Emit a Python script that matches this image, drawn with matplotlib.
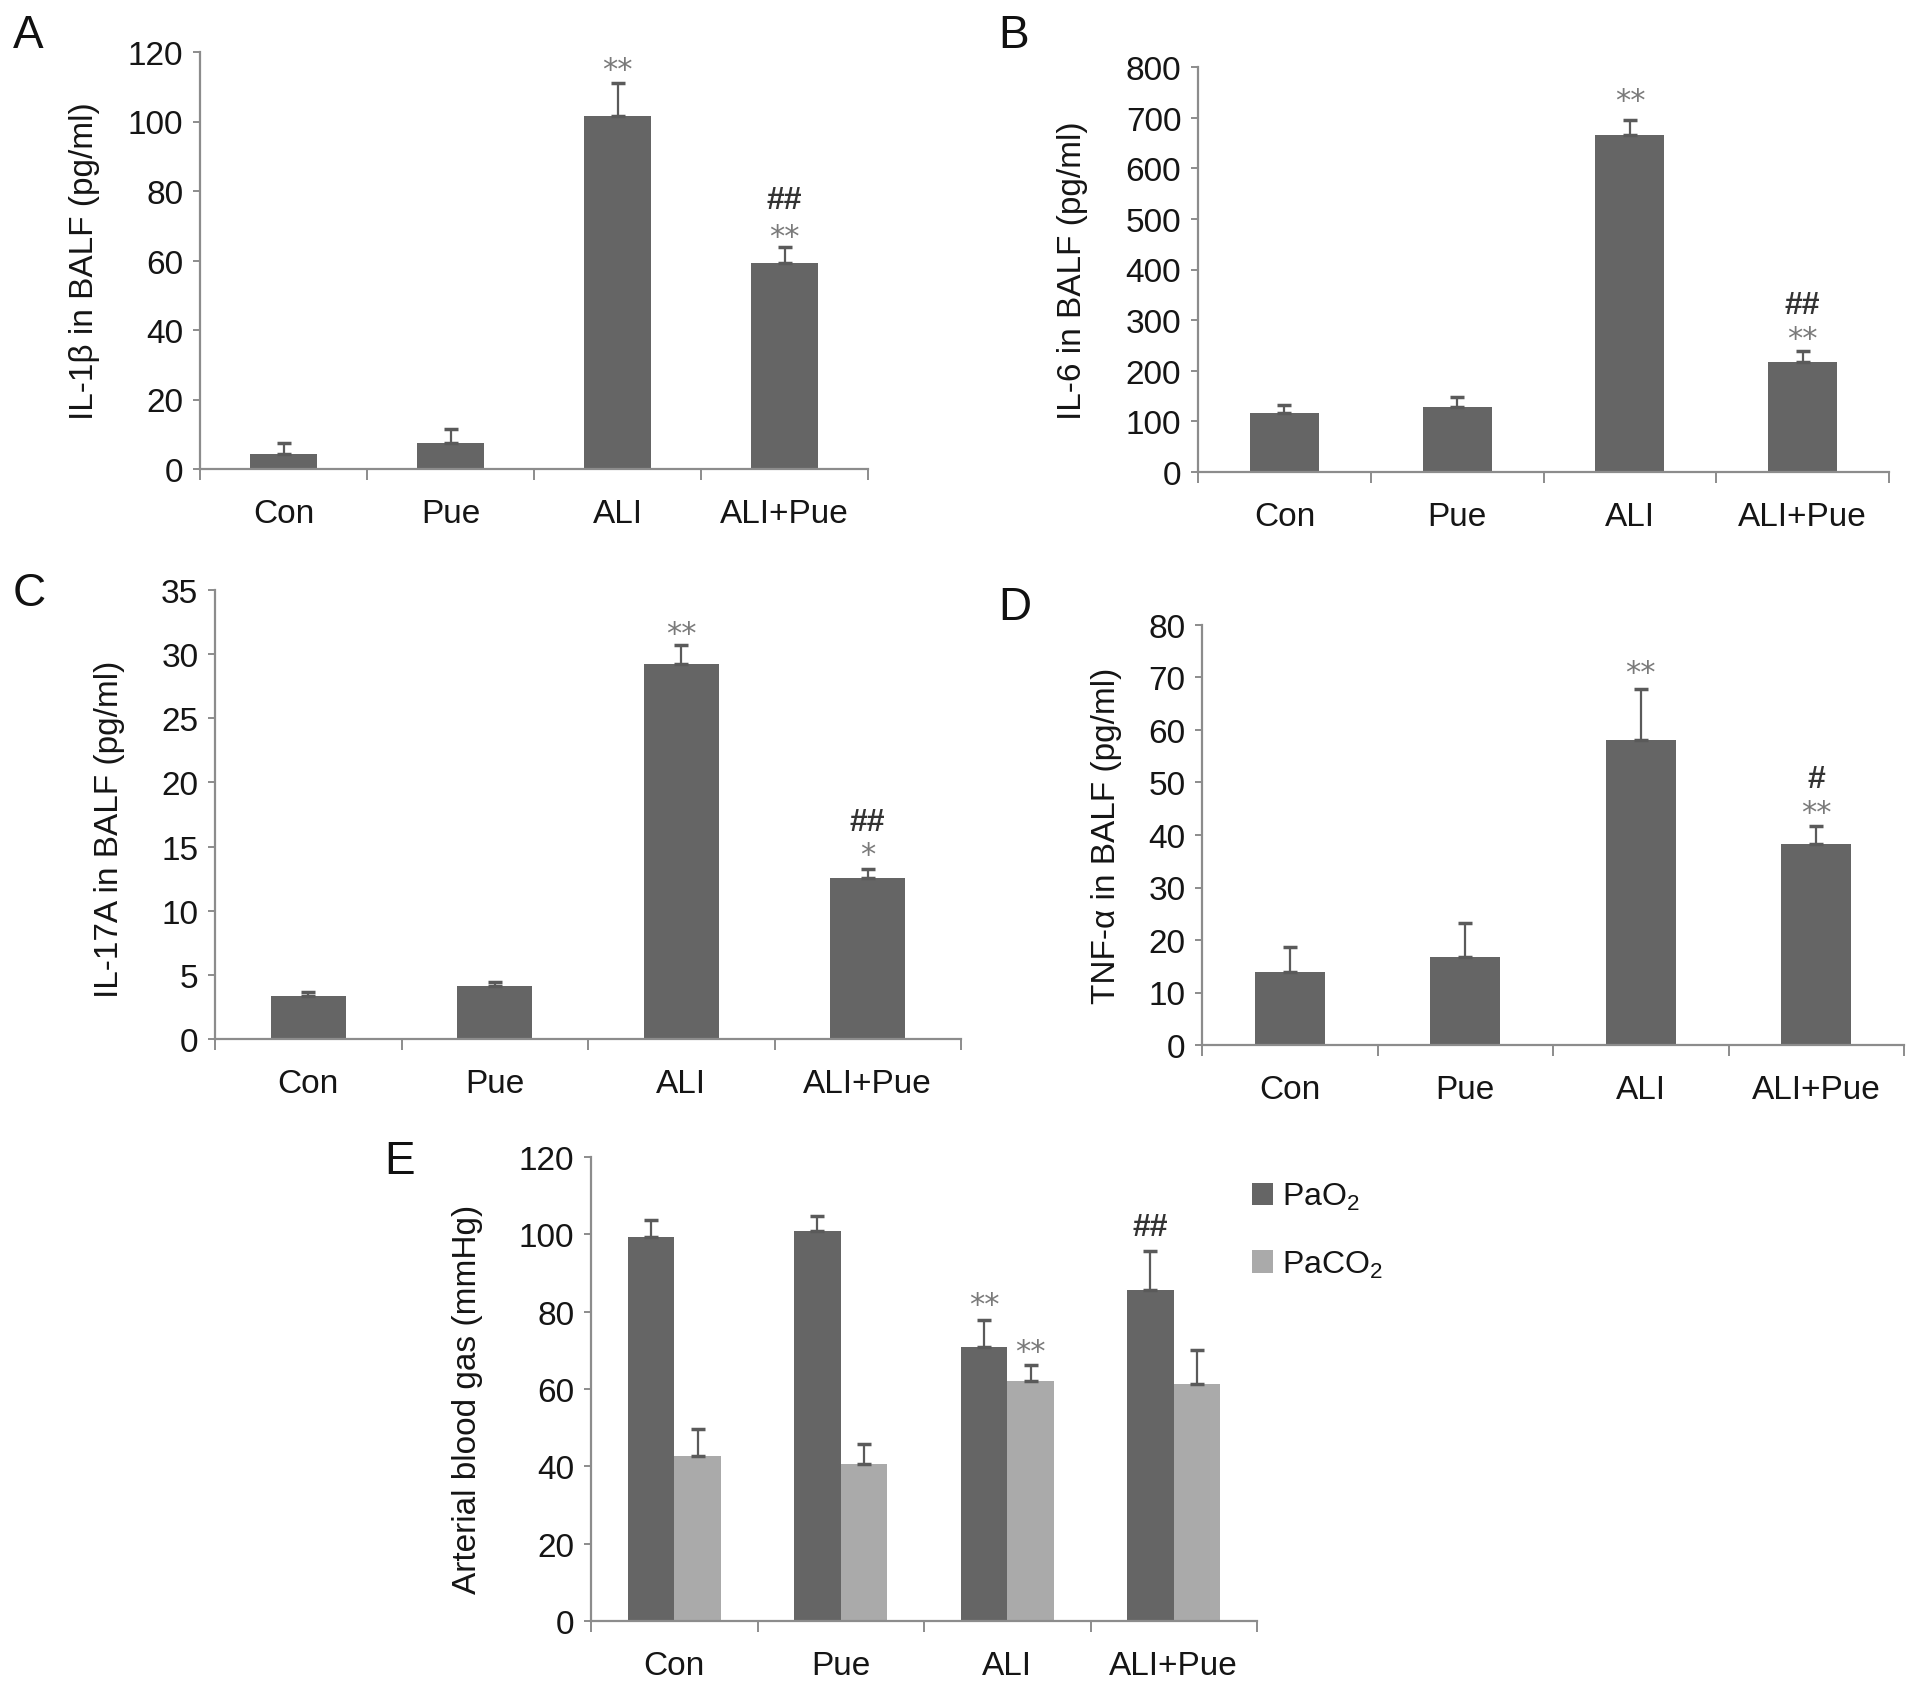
import matplotlib
matplotlib.use("Agg")
import matplotlib.pyplot as plt
from matplotlib.patches import Patch
from matplotlib.transforms import offset_copy
import numpy as np

plt.rcParams['font.family'] = ['Liberation Sans', 'DejaVu Sans']
plt.rcParams['mathtext.fontset'] = 'custom'
plt.rcParams['mathtext.rm'] = 'Liberation Sans'
plt.rcParams['mathtext.it'] = 'Liberation Sans:italic'

categories = ["Con", "Pue", "ALI", "ALI+Pue"]

il1b_mean = [4.2, 7.6, 101.5, 59.4]
il1b_err = [3.3, 3.8, 9.5, 4.5]
il6_mean = [116, 129, 666, 217]
il6_err = [16, 19, 30, 22]
il17a_mean = [3.36, 4.16, 29.25, 12.52]
il17a_err = [0.33, 0.3, 1.5, 0.74]
tnfa_mean = [13.95, 16.8, 58.1, 38.3]
tnfa_err = [4.7, 6.5, 9.7, 3.4]
pao2_mean = [99.2, 100.8, 70.9, 85.6]
pao2_err = [4.5, 4.0, 7.0, 10.1]
paco2_mean = [42.6, 40.5, 61.95, 61.3]
paco2_err = [7.0, 5.2, 4.3, 8.7]

W, H = 1913, 1690
fig = plt.figure(figsize=(W / 100, H / 100), dpi=100)

DARK = '#656565'
LIGHT = '#aaaaaa'
SPINE = '#8c8c8c'
TXT = '#151515'


def make_ax(l, t, r, b):
    return fig.add_axes([l / W, 1 - b / H, (r - l) / W, (b - t) / H])


def style(ax, ymax, step, ylabel, lx, ly=0.5):
    ax.set_xlim(-0.5, 3.5)
    ax.set_ylim(0, ymax)
    ax.set_yticks(np.arange(0, ymax + step / 2, step))
    for s in ['top', 'right']:
        ax.spines[s].set_visible(False)
    for s in ['left', 'bottom']:
        ax.spines[s].set_color(SPINE)
        ax.spines[s].set_linewidth(1.6)
    ax.spines['left'].set_bounds(0, ymax)
    ax.tick_params(axis='y', direction='out', length=5, width=1.4, color=SPINE,
                   labelsize=24, pad=7, labelcolor=TXT)
    ax.set_xticks([-0.5, 0.5, 1.5, 2.5, 3.5])
    ax.set_xticklabels([])
    ax.tick_params(axis='x', which='major', direction='out', length=8, width=1.4, color=SPINE)
    ax.set_xticks(range(len(categories)), minor=True)
    ax.set_xticklabels(categories, minor=True)
    ax.tick_params(axis='x', which='minor', length=0, labelsize=24, pad=21, labelcolor=TXT)
    ax.set_ylabel(ylabel, fontsize=24, color=TXT)
    ax.yaxis.set_label_coords(lx, ly)
    ax.patch.set_alpha(0)


def bars(ax, mean, err, offset=0.0, width=0.4, color=DARK):
    x = np.arange(len(mean)) + offset
    ax.bar(x, mean, width=width, color=color, edgecolor='none', zorder=2)
    ax.errorbar(x, mean, yerr=[np.zeros(len(err)), err], fmt='none', ecolor='#5a5a5a',
                elinewidth=1.6, capsize=5, capthick=2.5, zorder=3)


def star(ax, x, y, s):
    tr = offset_copy(ax.transData, fig=fig, x=0, y=-4, units='points')
    ax.text(x, y, s, ha='center', va='center', fontsize=22, color='#7a7a7a',
            family=['DejaVu Sans'], transform=tr)


def hashes(ax, x, y, s):
    ax.text(x, y, s, ha='center', va='center', fontsize=23, color='#333333',
            family=['Liberation Sans'], fontweight='bold')


# Panel A
axA = make_ax(200, 53, 868, 470)
bars(axA, il1b_mean, il1b_err)
style(axA, 120, 20, 'IL-1β in BALF (pg/ml)', -0.149)
star(axA, 2, 116.6, '**')
hashes(axA, 3, 77.3, '##')
star(axA, 3, 68.6, '**')

# Panel B
axB = make_ax(1198, 68, 1889, 473)
bars(axB, il6_mean, il6_err)
style(axB, 800, 100, 'IL-6 in BALF (pg/ml)', -0.159)
star(axB, 2, 745, '**')
hashes(axB, 3, 330, '##')
star(axB, 3, 274, '**')

# Panel C
axC = make_ax(215, 591, 961, 1040)
bars(axC, il17a_mean, il17a_err)
style(axC, 35, 5, 'IL-17A in BALF (pg/ml)', -0.121, 0.47)
star(axC, 2, 32.07, '**')
hashes(axC, 3, 16.95, '##')
star(axC, 3, 14.85, '*')

# Panel D
axD = make_ax(1202, 626, 1904, 1046)
bars(axD, tnfa_mean, tnfa_err)
style(axD, 80, 10, 'TNF-α in BALF (pg/ml)', -0.114)
star(axD, 2, 71.95, '**')
hashes(axD, 3, 50.65, '#')
star(axD, 3, 45.4, '**')

# Panel E
axE = make_ax(591, 1158, 1257, 1622)
bw = 0.28
bars(axE, pao2_mean, pao2_err, offset=-bw / 2, width=bw, color=DARK)
bars(axE, paco2_mean, paco2_err, offset=bw / 2, width=bw, color=LIGHT)
style(axE, 120, 20, 'Arterial blood gas (mmHg)', -0.162, 0.48)
star(axE, 2 - bw / 2, 83.4, '**')
star(axE, 2 + bw / 2, 71.2, '**')
hashes(axE, 3 - bw / 2, 101.9, '##')

handles = [Patch(facecolor=DARK, edgecolor='none'), Patch(facecolor=LIGHT, edgecolor='none')]
fig.legend(handles, ['PaO$_2$', 'PaCO$_2$'], loc='upper left',
           bbox_to_anchor=(1252 / W, 1 - 1182 / H), frameon=False, fontsize=23,
           borderpad=0, borderaxespad=0,
           handlelength=0.65, handleheight=0.7, handletextpad=0.3, labelspacing=1.15,
           labelcolor=TXT)

# Panel letters
for letter, x, y in [('A', 13, 48), ('B', 998, 48), ('C', 13, 606), ('D', 998, 620), ('E', 384, 1174)]:
    fig.text(x / W, 1 - y / H, letter, fontsize=33, ha='left', va='baseline', color='#111111')

fig.savefig('out.png', dpi=100, facecolor='white')
